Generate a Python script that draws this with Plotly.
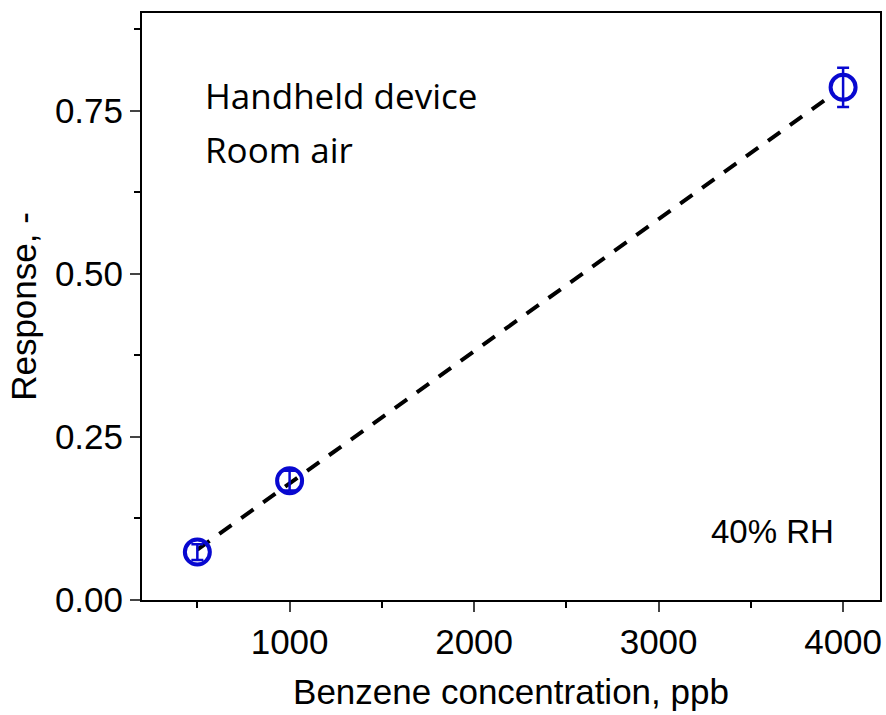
import numpy as np
import plotly.graph_objects as go

conc = [500, 1000, 4000]
response = [0.0735, 0.183, 0.786]
err = [0.012, 0.015, 0.03]

x_ticks = [1000, 2000, 3000, 4000]
y_ticks = [0.0, 0.25, 0.5, 0.75]
y_tick_labels = ["0.00", "0.25", "0.50", "0.75"]

slope, intercept = np.polyfit(conc, response, 1)
fit_x = [conc[0], conc[-1] - 60]
fit_y = [slope * v + intercept for v in fit_x]

blue = "#0808D0"

fig = go.Figure()
fig.add_trace(go.Scatter(
    x=fit_x, y=fit_y, mode="lines",
    line=dict(color="black", width=4, dash="15px,12px"),
    showlegend=False, hoverinfo="skip"))
fig.add_trace(go.Scatter(
    x=conc, y=response, mode="markers",
    marker=dict(symbol="circle-open", size=25, color=blue, line=dict(width=4, color=blue)),
    error_y=dict(type="data", array=err, color=blue, thickness=2.5, width=6),
    showlegend=False))

font_axis = dict(family="Liberation Sans, Arial", size=35, color="black")
fig.update_layout(
    width=886, height=715,
    margin=dict(l=142, r=4, t=13, b=115),
    plot_bgcolor="white", paper_bgcolor="white",
    xaxis=dict(range=[200, 4200], tickvals=x_ticks, ticks="outside", ticklen=10, tickwidth=2,
               showline=True, linewidth=2, linecolor="black", mirror=True, showgrid=False, zeroline=False,
               tickfont=font_axis,
               minor=dict(tickvals=[500, 1500, 2500, 3500], ticks="outside", ticklen=6, tickwidth=2, tickcolor="black"),
               title=dict(text="Benzene concentration, ppb", font=font_axis, standoff=19)),
    yaxis=dict(range=[0, 0.9], tickvals=y_ticks, ticktext=y_tick_labels, ticks="outside", ticklen=10, tickwidth=2,
               showline=True, linewidth=2, linecolor="black", mirror=True, showgrid=False, zeroline=False,
               tickfont=font_axis,
               minor=dict(tickvals=[0.125, 0.375, 0.625, 0.875], ticks="outside", ticklen=6, tickwidth=2, tickcolor="black"),
               title=dict(text="Response, -", font=font_axis, standoff=8)),
)

ann_font = dict(family="Open Sans, Noto Sans", size=35, color="black")
fig.add_annotation(x=0.082, y=0.860, xref="paper", yref="paper", text="Handheld device",
                   showarrow=False, xanchor="left", yanchor="middle", font=ann_font)
fig.add_annotation(x=0.082, y=0.767, xref="paper", yref="paper", text="Room air",
                   showarrow=False, xanchor="left", yanchor="middle", font=ann_font)
fig.add_annotation(x=0.941, y=0.117, xref="paper", yref="paper", text="40% RH",
                   showarrow=False, xanchor="right", yanchor="middle",
                   font=dict(family="Liberation Sans, Arial", size=33, color="black"))

fig.write_html("out.html")
